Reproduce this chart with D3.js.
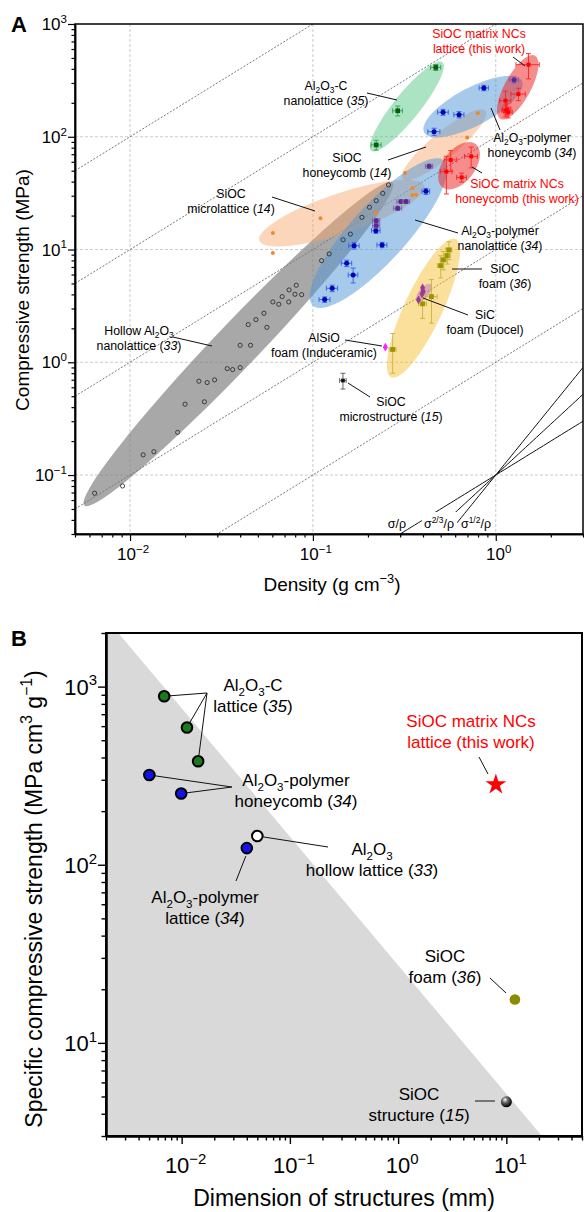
<!DOCTYPE html>
<html><head><meta charset="utf-8">
<script src="https://cdn.jsdelivr.net/npm/d3@7"></script>
<style>body{margin:0;background:#fff}svg{display:block}text{font-family:Arial,"Liberation Sans",Helvetica,sans-serif}</style>
</head><body><svg id="c" width="584" height="1212"></svg>
<script>
// ---------------- Panel A data (density g/cm3, compressive strength MPa) ----------------
const hollowRho   = [0.0064,0.0091,0.0118,0.0135,0.0182,0.020,0.0238,0.0255,0.0264,0.029,0.034,0.0364,0.040,0.040,0.0456,0.0443,0.0488,0.054,0.056,0.0604,0.0651,0.0679,0.0738,0.0741,0.0798,0.0811,0.0868,0.1115,0.1227,0.1462,0.1603,0.1854,0.204,0.222,0.241,0.259];
const hollowSigma = [0.069,0.080,0.151,0.161,0.239,0.425,0.679,0.446,0.661,0.698,0.879,0.861,0.897,1.415,1.415,2.16,2.39,2.72,2.04,3.43,3.27,3.82,3.43,4.38,4.01,4.82,3.98,7.97,9.14,12.2,13.7,19.3,23.7,27.1,31.5,37.4];
const microRho    = [0.0604,0.0604,0.110,0.221,0.349,0.351,0.367];
const microSigma  = [14.0,9.33,18.9,21.1,30.5,35.2,30.6];
const honeyRho    = [0.319,0.698,0.798];
const honeySigma  = [47.6,98.6,162];
const alcRho = [0.222,0.291,0.470], alcSigma = [84.6,170,412], alcRhoErr = [0.014,0.018,0.03], alcSigmaErr = [8.5,17,25];
const aphRho = [0.460,0.515,0.630,0.861], aphSigma = [111,165,157,271], aphRhoErr = [0.035,0.035,0.04,0.05], aphSigmaErr = [8,10,10,15];
const apnRho = [0.116,0.1275,0.153,0.166,0.168,0.221,0.239,0.415], apnSigma = [3.6,4.53,7.55,5.95,10.8,14.7,10.98,32.8];
const apnRhoErr = [0.008,0.009,0.01,0.01,0.011,0.012,0.015,0.02], apnSigmaErr = [0.2,0.3,0.5,0.9,0.7,0.8,0.6,2];
const purRho = [0.222,0.222,0.291,0.303,0.323,0.432,1.26], purSigma = [16.3,18.0,23.2,26.6,26.6,54.7,319];
const purRhoErr = [0.01,0.01,0.015,0.015,0.015,0.02,0.07], purSigmaErr = [0.8,0.8,1,1,1,2.5,20];
const nclRho = [1.51,1.33,1.13,1.15,1.13,1.17], nclSigma = [436,239,209,176,170,165];
const nclRhoErr = [0.22,0.12,0.08,0.06,0.05,0.06], nclSigmaErr = [110,30,45,20,20,18];
const nchRho = [0.567,0.734,0.537,0.651], nchSigma = [62.3,67,49.1,43.6];
const nchRhoErr = [0.045,0.06,0.04,0.04], nchSigmaErr = [13,14,18,4];
const foamRho = [0.273,0.398,0.445,0.500,0.517,0.544,0.555], foamSigma = [1.30,3.30,3.82,7.2,8.1,8.83,9.92];
const foamRhoErr = [0.012,0.02,0.033,0.02,0.02,0.02,0.02], foamSigmaErr = [0.5,0.85,1.6,1.6,1.5,1.4,1.8];
const sicRho = [0.398,0.401,0.395,0.378], sicSigma = [4.57,4.26,4.04,3.57];
const alsioRho = [0.249], alsioSigma = [1.36];
const msRho = [0.146], msSigma = [0.689], msRhoErr = [0.006], msSigmaErr = [0.11];
// shaded regions: [rho1, sigma1, rho2, sigma2]
const regionHollow = [0.00562,0.0537,0.272,39.3];
const regionMicro  = [0.0509,12.0,0.406,36.8];
const regionHoney  = [0.31,42.3,0.879,170];
const regionAlc    = [0.2085,75.3,0.511,457];
const regionAph    = [0.406,109,1.39,314];
const regionApn    = [0.10,3.18,0.522,61.4];
const regionNcl    = [1.06,144,1.64,524];
const regionNch    = [0.511,35.6,0.776,86.3];
const regionFoam   = [0.268,0.736,0.604,12.4];
const regionSic    = [0.372,3.53,0.443,4.9];
const guideRatios  = [1,10,100,1000,10000];     // sigma/rho dotted guide lines
const scalingExps  = [1,1.5,2];                 // solid lines through (1, 0.1)
const xTicksA = [0.01,0.1,1], yTicksA = [0.1,1,10,100,1000];

// ---------------- Panel B data (dimension mm, specific strength MPa cm3/g) ----------------
const bAlcDim = [0.0069,0.0112,0.0142], bAlcSpec = [883,590,381];
const bAphDim = [0.00503,0.0099], bAphSpec = [319,251];
const bAplDim = [0.040], bAplSpec = [124];
const bHolDim = [0.050], bHolSpec = [145];
const bFoamDim = [12], bFoamSpec = [17.5];
const bStrDim = [10], bStrSpec = [4.67];
const bWorkDim = [8], bWorkSpec = [282];
const bBoundary = [[0.0026,2000],[21.3,3]];
const xTicksB = [0.01,0.1,1,10], yTicksB = [10,100,1000];

// ---------------- helpers ----------------
const svg = d3.select('#c');
function rich(t, str, fs){
  const segs=[]; let it=false, buf='', i=0;
  const push=(s,m)=>{ if(s) segs.push({s,m,it}); };
  while(i<str.length){
    const c=str[i];
    if(c==='*'){ push(buf,'n'); buf=''; it=!it; i++; }
    else if(c==='_'){ push(buf,'n'); buf=''; push(str[i+1],'sub'); i+=2; }
    else if(c==='^'){ push(buf,'n'); buf=''; const j=str.indexOf('}',i); push(str.slice(i+2,j),'sup'); i=j+1; }
    else { buf+=c; i++; }
  }
  push(buf,'n');
  let shift=0;
  segs.forEach(sg=>{
    const target = sg.m==='sub'?0.28:sg.m==='sup'?-0.42:0;
    const ts=t.append('tspan').text(sg.s);
    if(target!==shift) ts.attr('dy',((target-shift)*fs).toFixed(2));
    shift=target;
    if(sg.m!=='n') ts.attr('font-size',(fs*0.68).toFixed(2));
    if(sg.it) ts.attr('font-style','italic');
  });
  return t;
}
function label(g, str, x, y, fs, anchor, color){
  const t=g.append('text').attr('x',x).attr('y',y).attr('font-size',fs)
    .attr('text-anchor',anchor||'middle').attr('fill',color||'#000');
  return rich(t,str,fs);
}
const sup = v => '10^{'+String(Math.round(Math.log10(v))).replace('-','\u2212')+'}';
function minors(domain){
  const out=[]; for(let e=-4;e<=4;e++) for(let k=2;k<=9;k++){ const v=k*Math.pow(10,e); if(v>=domain[0]*0.999&&v<=domain[1]*1.001) out.push(v);} return out;
}

// ================= PANEL A =================
const xA = d3.scaleLog().domain([0.005,3]).range([75,583]);
const yA = d3.scaleLog().domain([0.03,1000]).range([534,24]);
const gA = svg.append('g');
gA.append('clipPath').attr('id','clipA').append('rect')
  .attr('x',75).attr('y',24).attr('width',508).attr('height',510);
const pA = gA.append('g').attr('clip-path','url(#clipA)');

// grid
xTicksA.forEach(v=>pA.append('line').attr('x1',xA(v)).attr('x2',xA(v)).attr('y1',24).attr('y2',534)
  .attr('stroke','#b5b5b5').attr('stroke-width',0.7).attr('stroke-dasharray','3,2'));
yTicksA.slice(0,4).forEach(v=>pA.append('line').attr('y1',yA(v)).attr('y2',yA(v)).attr('x1',75).attr('x2',583)
  .attr('stroke','#b5b5b5').attr('stroke-width',0.7).attr('stroke-dasharray','3,2'));
// guide lines sigma/rho = C
const lineA = d3.line().x(d=>xA(d[0])).y(d=>yA(d[1]));
guideRatios.forEach(c=>{
  pA.append('path').attr('d',lineA([[0.005,0.005*c],[3,3*c]])).attr('fill','none')
    .attr('stroke','#555').attr('stroke-width',0.8).attr('stroke-dasharray','2,1.6');
});

// regions
function region(g,sx,sy,r,ry,fill,op){
  const x1=sx(r[0]),y1=sy(r[1]),x2=sx(r[2]),y2=sy(r[3]);
  const cx=(x1+x2)/2, cy=(y1+y2)/2, a=Math.hypot(x2-x1,y2-y1)/2, ang=Math.atan2(y2-y1,x2-x1)*180/Math.PI;
  g.append('ellipse').attr('rx',a).attr('ry',ry).attr('fill',fill).attr('fill-opacity',op)
    .attr('transform',`translate(${cx},${cy}) rotate(${ang})`);
}
region(pA,xA,yA,regionHollow,22,'#7a7a7a',0.65);
region(pA,xA,yA,regionMicro,20,'#f7a468',0.45);
region(pA,xA,yA,regionHoney,13,'#f7a468',0.45);
region(pA,xA,yA,regionApn,28,'#4f95d6',0.5);
region(pA,xA,yA,regionAph,19,'#4f95d6',0.5);
region(pA,xA,yA,regionAlc,13,'#45c07a',0.45);
region(pA,xA,yA,regionNcl,13,'#ee1c1c',0.5);
region(pA,xA,yA,regionNch,16,'#ee1c1c',0.5);
region(pA,xA,yA,regionFoam,19,'#f5bb20',0.45);
region(pA,xA,yA,regionSic,5,'#c070c0',0.5);

// scaling lines through (1, 0.1)
scalingExps.forEach(n=>{
  pA.append('path').attr('d',lineA(d3.range(0,61).map(i=>{const r=0.2*Math.pow(15,i/60);return [r,0.1*Math.pow(r,n)];})))
    .attr('fill','none').attr('stroke','#111').attr('stroke-width',1);
});

// error-bar groups
function errGroup(g, rho, sig, rErr, sErr, marker, mcol, ecol, msize){
  rho.forEach((r,i)=>{
    const s=sig[i], px=xA(r), py=yA(s);
    if(rErr){
      const xl=xA(r-rErr[i]), xr=xA(r+rErr[i]);
      g.append('line').attr('x1',xl).attr('x2',xr).attr('y1',py).attr('y2',py).attr('stroke',ecol).attr('stroke-width',0.9);
      [xl,xr].forEach(xx=>g.append('line').attr('x1',xx).attr('x2',xx).attr('y1',py-2.5).attr('y2',py+2.5).attr('stroke',ecol).attr('stroke-width',0.9));
    }
    if(sErr){
      const yt=yA(s+sErr[i]), yb=yA(Math.max(s-sErr[i],1e-6));
      g.append('line').attr('x1',px).attr('x2',px).attr('y1',yt).attr('y2',yb).attr('stroke',ecol).attr('stroke-width',0.9);
      [yt,yb].forEach(yy=>g.append('line').attr('x1',px-2.5).attr('x2',px+2.5).attr('y1',yy).attr('y2',yy).attr('stroke',ecol).attr('stroke-width',0.9));
    }
    g.append('path').attr('d',d3.symbol().type(marker).size(msize)()).attr('transform',`translate(${px},${py})`).attr('fill',mcol);
  });
}
// hollow circles
hollowRho.forEach((r,i)=>pA.append('circle').attr('cx',xA(r)).attr('cy',yA(hollowSigma[i])).attr('r',2.1)
  .attr('fill','none').attr('stroke','#222').attr('stroke-width',0.8));
microRho.forEach((r,i)=>pA.append('circle').attr('cx',xA(r)).attr('cy',yA(microSigma[i])).attr('r',2).attr('fill','#f08a24'));
honeyRho.forEach((r,i)=>pA.append('circle').attr('cx',xA(r)).attr('cy',yA(honeySigma[i])).attr('r',2).attr('fill','#e8892a'));
errGroup(pA,alcRho,alcSigma,alcRhoErr,alcSigmaErr,d3.symbolSquare,'#0a5c0a','#2e9e55',22);
errGroup(pA,aphRho,aphSigma,aphRhoErr,aphSigmaErr,d3.symbolCircle,'#0000b4','#2a5ef0',20);
errGroup(pA,apnRho,apnSigma,apnRhoErr,apnSigmaErr,d3.symbolCircle,'#0000b4','#2a5ef0',20);
errGroup(pA,purRho,purSigma,purRhoErr,purSigmaErr,d3.symbolCircle,'#5b2b8c','#7d5cb8',20);
errGroup(pA,foamRho,foamSigma,foamRhoErr,foamSigmaErr,d3.symbolSquare,'#9a9400','#c4b440',24);
errGroup(pA,nclRho,nclSigma,nclRhoErr,nclSigmaErr,d3.symbolSquare,'#ff0000','#ff2020',16);
errGroup(pA,nchRho,nchSigma,nchRhoErr,nchSigmaErr,d3.symbolSquare,'#ff0000','#ff2020',16);
errGroup(pA,sicRho,sicSigma,null,null,d3.symbolDiamond,'#9c3a94','#9c3a94',22);
errGroup(pA,alsioRho,alsioSigma,null,null,d3.symbolDiamond,'#ff22ff','#ff22ff',22);
errGroup(pA,msRho,msSigma,msRhoErr,msSigmaErr,d3.symbolSquare,'#111','#555',14);

// scaling labels
const lab = pA.append('g');
lab.append('rect').attr('x',422).attr('y',512).attr('width',35).attr('height',21).attr('fill','#fff');
label(lab,'\u03c3/\u03c1',397,528,12.5);
label(lab,'\u03c3^{2/3}/\u03c1',439,528,12.5);
label(lab,'\u03c3^{1/2}/\u03c1',476,528,12.5);

// annotations A
const annA = [
 {t:['Al_2O_3-C','nanolattice (*35*)'],x:326,y:90,l:[367,93,397,100]},
 {t:['SiOC','honeycomb (*14*)'],x:347,y:162,l:[388,160,426,147]},
 {t:['SiOC','microlattice (*14*)'],x:231,y:198,l:[272,197,315,211]},
 {t:['Hollow Al_2O_3','nanolattice (*33*)'],x:139,y:335,l:[173,337,212,346]},
 {t:['SiOC matrix NCs','lattice (this work)'],x:479,y:38,l:[513,57,525,66],c:'#ff0000'},
 {t:['Al_2O_3-polymer','honeycomb (*34*)'],x:532,y:142,l:[491,108,500,130]},
 {t:['SiOC matrix NCs','honeycomb (this work)'],x:517,y:188,l:[472,167,482,173],c:'#ff0000'},
 {t:['Al_2O_3-polymer','nanolattice (*34*)'],x:500,y:235,l:[415,220,458,233]},
 {t:['SiOC','foam (*36*)'],x:505,y:273,l:[452,269,482,269]},
 {t:['SiC','foam (Duocel)'],x:485,y:319,l:[423,298,468,315]},
 {t:['AlSiO','foam (Induceramic)'],x:324,y:342,l:[345,340,382,346]},
 {t:['SiOC','microstructure (*15*)'],x:391,y:406,l:[348,383,370,397]},
];
annA.forEach(a=>{
  gA.append('line').attr('x1',a.l[0]).attr('y1',a.l[1]).attr('x2',a.l[2]).attr('y2',a.l[3]).attr('stroke','#111').attr('stroke-width',1);
  a.t.forEach((s,k)=>label(gA,s,a.x,a.y+k*15,12.3,'middle',a.c));
});

// axes A
const axL = gA.append('g').attr('transform','translate(75,0)');
axL.call(d3.axisLeft(yA).tickValues(yTicksA).tickSize(7).tickSizeOuter(0).tickFormat(''));
axL.append('g').call(d3.axisLeft(yA).tickValues(minors(yA.domain()).filter(v=>!yTicksA.includes(v))).tickSize(3.5).tickSizeOuter(0).tickFormat(''));
const axB = gA.append('g').attr('transform','translate(0,534)');
axB.call(d3.axisBottom(xA).tickValues(xTicksA).tickSize(7).tickSizeOuter(0).tickFormat(''));
axB.append('g').call(d3.axisBottom(xA).tickValues(minors(xA.domain()).filter(v=>!xTicksA.includes(v))).tickSize(3.5).tickSizeOuter(0).tickFormat(''));
gA.selectAll('.tick line').attr('stroke','#000').attr('stroke-width',1.2);
gA.selectAll('.domain').attr('stroke','#000').attr('stroke-width',1.5);
gA.append('rect').attr('x',75).attr('y',24).attr('width',508).attr('height',510).attr('fill','none').attr('stroke','#000').attr('stroke-width',1.5);
yTicksA.forEach(v=>label(gA,sup(v),67,yA(v)+6,17,'end'));
xTicksA.forEach(v=>label(gA,sup(v),xA(v)+3,560,17,'middle'));
label(gA,'Density (g cm^{\u22123})',332,591,19);
label(gA,'Compressive strength (MPa)',0,0,19).attr('transform','translate(29,290) rotate(-90)');
gA.append('text').attr('x',11).attr('y',32).attr('font-size',22).attr('font-weight','bold').text('A');

// ================= PANEL B =================
const xB = d3.scaleLog().domain([0.002,50]).range([106,582]);
const yB = d3.scaleLog().domain([3,2000]).range([1136,633]);
const gB = svg.append('g');
gB.append('clipPath').attr('id','clipB').append('rect').attr('x',106).attr('y',633).attr('width',476).attr('height',503);
const pB = gB.append('g').attr('clip-path','url(#clipB)');
// boundary: extend the line across the whole domain, fill below-left
const bSlope = (Math.log10(bBoundary[1][1])-Math.log10(bBoundary[0][1]))/(Math.log10(bBoundary[1][0])-Math.log10(bBoundary[0][0]));
const bAt = d => bBoundary[0][1]*Math.pow(d/bBoundary[0][0],bSlope);
const polyPts = [[0.001,bAt(0.001)],[100,bAt(100)],[0.001,1]];
pB.append('path').attr('d',d3.line().x(d=>xB(d[0])).y(d=>yB(d[1]))(polyPts)+'Z').attr('fill','#d9d9d9');

// defs
const defs = svg.append('defs');
const rg = defs.append('radialGradient').attr('id','sph').attr('cx','38%').attr('cy','32%').attr('r','65%');
rg.append('stop').attr('offset','0%').attr('stop-color','#ffffff');
rg.append('stop').attr('offset','35%').attr('stop-color','#777');
rg.append('stop').attr('offset','100%').attr('stop-color','#000');

// annotations B (leaders first)
const lnB = (x1,y1,x2,y2)=>gB.append('line').attr('x1',x1).attr('y1',y1).attr('x2',x2).attr('y2',y2).attr('stroke','#111').attr('stroke-width',1);
bAlcDim.forEach((d,i)=>lnB(207,693,xB(d),yB(bAlcSpec[i])));
bAphDim.forEach((d,i)=>lnB(232,787,xB(d),yB(bAphSpec[i])));
lnB(xB(bHolDim[0]),yB(bHolSpec[0]),328,847);
lnB(xB(bAplDim[0])-1,yB(bAplSpec[0])+8,236,881);
lnB(479,757,488,774);
lnB(490,978,506,993);
lnB(475,1101,495,1101);
const annB = [
 {t:['Al_2O_3-C','lattice (*35*)'],x:253,y:691},
 {t:['Al_2O_3-polymer','honeycomb (*34*)'],x:296,y:786},
 {t:['Al_2O_3','hollow lattice (*33*)'],x:372,y:855},
 {t:['Al_2O_3-polymer','lattice (*34*)'],x:205,y:903},
 {t:['SiOC matrix NCs','lattice (this work)'],x:471,y:727,c:'#ff0000'},
 {t:['SiOC','foam (*36*)'],x:445,y:962},
 {t:['SiOC','structure (*15*)'],x:419,y:1100},
];
annB.forEach(a=>a.t.forEach((s,k)=>label(gB,s,a.x,a.y+k*21,17,'middle',a.c)));

// points B
const dotB=(dims,specs,fill,stroke)=>dims.forEach((d,i)=>gB.append('circle').attr('cx',xB(d)).attr('cy',yB(specs[i])).attr('r',5.3)
  .attr('fill',fill).attr('stroke',stroke||'none').attr('stroke-width',2));
dotB(bAlcDim,bAlcSpec,'#1b7a1b','#000');
dotB(bAphDim,bAphSpec,'#1212ee','#000');
dotB(bAplDim,bAplSpec,'#1212ee','#000');
dotB(bHolDim,bHolSpec,'#ffffff','#000');
dotB(bFoamDim,bFoamSpec,'#8c8a00');
bStrDim.forEach((d,i)=>gB.append('circle').attr('cx',xB(d)).attr('cy',yB(bStrSpec[i])).attr('r',5.5).attr('fill','url(#sph)'));
bWorkDim.forEach((d,i)=>gB.append('path').attr('d',d3.symbol().type(d3.symbolStar).size(135)())
  .attr('transform',`translate(${xB(d)},${yB(bWorkSpec[i])})`).attr('fill','#ff0000'));

// axes B
const bl = gB.append('g').attr('transform','translate(106,0)');
bl.call(d3.axisLeft(yB).tickValues(yTicksB).tickSize(8).tickSizeOuter(0).tickFormat(''));
bl.append('g').call(d3.axisLeft(yB).tickValues(minors(yB.domain()).filter(v=>!yTicksB.includes(v))).tickSize(4.5).tickSizeOuter(0).tickFormat(''));
const bb = gB.append('g').attr('transform','translate(0,1136)');
bb.call(d3.axisBottom(xB).tickValues(xTicksB).tickSize(8).tickSizeOuter(0).tickFormat(''));
bb.append('g').call(d3.axisBottom(xB).tickValues(minors(xB.domain()).filter(v=>!xTicksB.includes(v))).tickSize(4.5).tickSizeOuter(0).tickFormat(''));
gB.selectAll('.tick line').attr('stroke','#000').attr('stroke-width',1.4);
gB.selectAll('.domain').attr('stroke','#000').attr('stroke-width',2);
gB.append('rect').attr('x',106).attr('y',633).attr('width',476).attr('height',503).attr('fill','none').attr('stroke','#000').attr('stroke-width',2);
yTicksB.forEach(v=>label(gB,sup(v),97,yB(v)+8,22,'end'));
xTicksB.forEach(v=>label(gB,sup(v),xB(v)+4,1173,22,'middle'));
label(gB,'Dimension of structures (mm)',344,1206,23);
label(gB,'Specific compressive strength (MPa cm^{3} g^{\u22121})',0,0,23).attr('transform','translate(42,899) rotate(-90)');
gB.append('text').attr('x',11).attr('y',646).attr('font-size',22).attr('font-weight','bold').text('B');
</script>
</body></html>
